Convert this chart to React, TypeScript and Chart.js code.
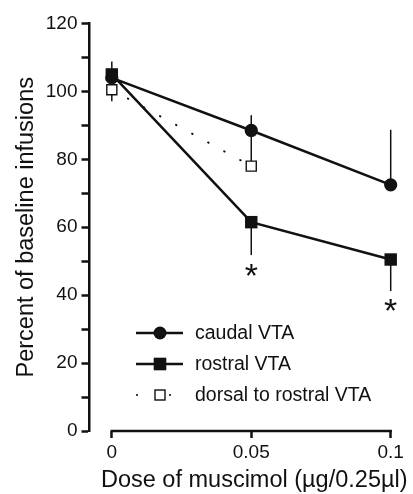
import React, { useEffect, useRef } from 'react';
import { Chart, registerables } from 'chart.js';

Chart.register(...registerables);

// ---- data ----
const doses = [0, 0.05, 0.1];
const dorsalDoses = [0, 0.05];
const xTickValues = [0, 0.05, 0.1];
const xTickLabels = ['0', '0.05', '0.1'];
const yTickValues = [0, 10, 20, 30, 40, 50, 60, 70, 80, 90, 100, 110, 120];
const yLabelStep = 20;

const caudalVTA = [104, 88.5, 72.5];
const caudalErrPlus = [4.8, 4.5, 16.2];
const caudalErrMinus = [0, 0, 0];

const rostralVTA = [105, 61.5, 50.5];
const rostralErrPlus = [0, 0, 0];
const rostralErrMinus = [0, 9.7, 9.3];

const dorsalVTA = [100.5, 78];
const dorsalErrPlus = [0, 10.5];
const dorsalErrMinus = [3.4, 0];

const sigDoses = [0.05, 0.1];
const sigLevels = [47.4, 37.1];

const seriesLabels = ['caudal VTA', 'rostral VTA', 'dorsal to rostral VTA'];
const xTitle = 'Dose of muscimol (µg/0.25µl)';
const yTitle = 'Percent of baseline infusions';

const FONT = "'Liberation Sans', Arial, Helvetica, sans-serif";
const INK = '#111';

const errorSets = [
  { x: doses, y: caudalVTA, plus: caudalErrPlus, minus: caudalErrMinus },
  { x: doses, y: rostralVTA, plus: rostralErrPlus, minus: rostralErrMinus },
  { x: dorsalDoses, y: dorsalVTA, plus: dorsalErrPlus, minus: dorsalErrMinus },
];

const errorBarPlugin = {
  id: 'errorBars',
  beforeDatasetsDraw(chart: any) {
    const { ctx, scales } = chart;
    const xs = scales.x;
    const ys = scales.y;
    ctx.save();
    ctx.strokeStyle = INK;
    ctx.lineWidth = 1.5;
    errorSets.forEach((s) => {
      s.x.forEach((xv, i) => {
        const p = s.plus[i];
        const m = s.minus[i];
        if (!p && !m) return;
        const px = xs.getPixelForValue(xv);
        ctx.beginPath();
        ctx.moveTo(px, ys.getPixelForValue(s.y[i] + p));
        ctx.lineTo(px, ys.getPixelForValue(s.y[i] - m));
        ctx.stroke();
      });
    });
    ctx.restore();
  },
};

const decorPlugin = {
  id: 'decor',
  afterDraw(chart: any) {
    const { ctx, scales, chartArea } = chart;
    const xs = scales.x;
    const ys = scales.y;
    ctx.save();

    // x axis line (only spanning the data range)
    ctx.strokeStyle = INK;
    ctx.lineWidth = 2.5;
    ctx.beginPath();
    ctx.moveTo(xs.getPixelForValue(xTickValues[0]) - 1.2, chartArea.bottom);
    ctx.lineTo(xs.getPixelForValue(xTickValues[xTickValues.length - 1]) + 1.2, chartArea.bottom);
    ctx.stroke();

    // significance asterisks
    ctx.fillStyle = INK;
    ctx.font = `34px ${FONT}`;
    ctx.textAlign = 'center';
    ctx.textBaseline = 'alphabetic';
    sigDoses.forEach((d, i) => {
      const m = ctx.measureText('*');
      const asc = m.actualBoundingBoxAscent;
      const desc = m.actualBoundingBoxDescent;
      const cy = ys.getPixelForValue(sigLevels[i]);
      ctx.fillText('*', xs.getPixelForValue(d), cy + (asc - desc) / 2);
    });

    // x title
    ctx.font = `23.5px ${FONT}`;
    ctx.textAlign = 'center';
    ctx.textBaseline = 'middle';
    const x0 = xs.getPixelForValue(xTickValues[0]);
    const x1 = xs.getPixelForValue(xTickValues[xTickValues.length - 1]);
    ctx.fillText(xTitle, (x0 + x1) / 2 + 3, 481);

    // legend
    const rows = [333, 364, 395];
    const lx0 = 136;
    const lx1 = 183;
    const mx = 160;
    const tx = 195;
    ctx.font = `19.5px ${FONT}`;
    ctx.textAlign = 'left';
    ctx.textBaseline = 'middle';
    ctx.lineWidth = 2.5;
    // caudal
    ctx.beginPath();
    ctx.moveTo(lx0, rows[0]);
    ctx.lineTo(lx1, rows[0]);
    ctx.stroke();
    ctx.beginPath();
    ctx.arc(mx, rows[0], 6.5, 0, Math.PI * 2);
    ctx.fill();
    // rostral
    ctx.beginPath();
    ctx.moveTo(lx0, rows[1]);
    ctx.lineTo(lx1, rows[1]);
    ctx.stroke();
    ctx.fillRect(mx - 6.3, rows[1] - 6.3, 12.6, 12.6);
    // dorsal
    ctx.beginPath();
    ctx.arc(137, rows[2], 1.1, 0, Math.PI * 2);
    ctx.arc(170, rows[2], 1.1, 0, Math.PI * 2);
    ctx.fill();
    ctx.lineWidth = 1.4;
    ctx.fillStyle = '#fff';
    ctx.fillRect(mx - 5, rows[2] - 5, 10, 10);
    ctx.strokeRect(mx - 5, rows[2] - 5, 10, 10);
    ctx.fillStyle = INK;
    seriesLabels.forEach((t, i) => ctx.fillText(t, tx, rows[i] + 1));

    ctx.restore();
  },
};

export default function App() {
  const canvasRef = useRef<HTMLCanvasElement | null>(null);

  useEffect(() => {
    if (!canvasRef.current) return;
    const chart = new Chart(canvasRef.current, {
      type: 'line',
      data: {
        datasets: [
          {
            label: seriesLabels[0],
            data: doses.map((d, i) => ({ x: d, y: caudalVTA[i] })),
            borderColor: INK,
            backgroundColor: INK,
            borderWidth: 2.5,
            clip: false,
            pointStyle: 'circle',
            pointRadius: 6,
            pointBorderWidth: 1.2,
            pointBackgroundColor: INK,
            pointBorderColor: INK,
          },
          {
            label: seriesLabels[1],
            data: doses.map((d, i) => ({ x: d, y: rostralVTA[i] })),
            borderColor: INK,
            backgroundColor: INK,
            borderWidth: 2.5,
            clip: false,
            pointStyle: 'rect',
            pointRadius: 8.8,
            pointBorderWidth: 0,
            pointBackgroundColor: INK,
            pointBorderColor: INK,
          },
          {
            label: seriesLabels[2],
            data: dorsalDoses.map((d, i) => ({ x: d, y: dorsalVTA[i] })),
            borderColor: INK,
            backgroundColor: '#fff',
            borderWidth: 2,
            borderDash: [0.5, 17.8],
            borderCapStyle: 'round',
            clip: false,
            pointStyle: 'rect',
            pointRadius: 7.1,
            pointBorderWidth: 1.4,
            pointBackgroundColor: '#fff',
            pointBorderColor: INK,
          },
        ],
      },
      options: {
        responsive: false,
        animation: false,
        events: [],
        layout: { padding: { top: 23.5, right: 22.3, left: 0, bottom: 0 } },
        plugins: {
          legend: { display: false },
          tooltip: { enabled: false },
        },
        scales: {
          x: {
            type: 'linear',
            min: -0.008,
            max: 0.1,
            afterFit: (s: any) => {
              s.height = 63;
            },
            afterBuildTicks: (s: any) => {
              s.ticks = xTickValues.map((v) => ({ value: v }));
            },
            grid: {
              display: true,
              drawOnChartArea: false,
              drawTicks: true,
              tickLength: 7,
              tickWidth: 2.5,
              tickColor: INK,
            },
            border: { display: false },
            ticks: {
              autoSkip: false,
              maxRotation: 0,
              padding: 3,
              color: INK,
              font: { family: FONT, size: 19 },
              callback: (v: any) => {
                const i = xTickValues.indexOf(Number(v));
                return i >= 0 ? xTickLabels[i] : '';
              },
            },
          },
          y: {
            type: 'linear',
            min: 0,
            max: 120,
            afterFit: (s: any) => {
              s.width = 89.5;
            },
            afterBuildTicks: (s: any) => {
              s.ticks = yTickValues.map((v) => ({ value: v }));
            },
            grid: {
              display: true,
              drawOnChartArea: false,
              drawTicks: true,
              tickLength: 8,
              tickWidth: 2.5,
              tickColor: INK,
            },
            border: { display: true, width: 2.5, color: INK },
            ticks: {
              autoSkip: false,
              padding: 4,
              color: INK,
              font: { family: FONT, size: 19 },
              callback: (v: any) => (Number(v) % yLabelStep === 0 ? String(v) : ''),
            },
            title: {
              display: true,
              text: yTitle,
              color: INK,
              font: { family: FONT, size: 23.5, lineHeight: 1.2 },
              padding: { top: 12, bottom: 0 },
            },
          },
        },
      },
      plugins: [errorBarPlugin, decorPlugin],
    } as any);
    return () => chart.destroy();
  }, []);

  return (
    <div style={{ position: 'fixed', left: 0, top: 0, width: 413, height: 494, background: '#fff' }}>
      <canvas ref={canvasRef} width={413} height={494} style={{ display: 'block' }} />
    </div>
  );
}
